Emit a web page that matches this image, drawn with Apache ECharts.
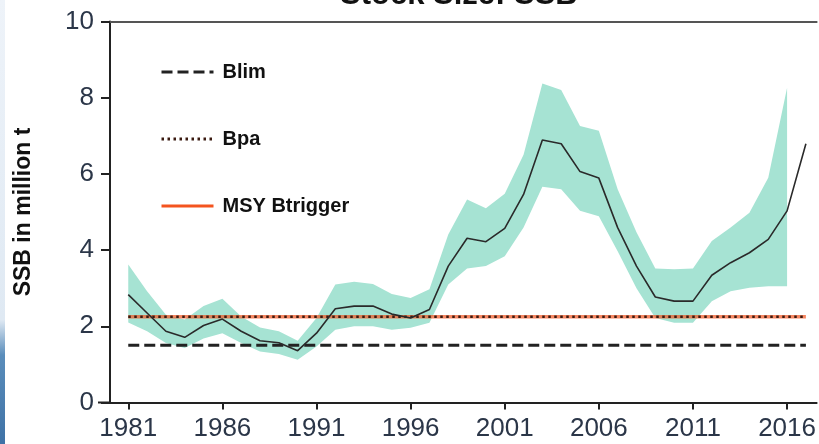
<!DOCTYPE html>
<html>
<head>
<meta charset="utf-8">
<script src="https://cdn.jsdelivr.net/npm/echarts@6/dist/echarts.min.js"></script>
<style>
  html, body { margin: 0; padding: 0; background: #fff; }
  #ssbChart { width: 819px; height: 444px; }
</style>
</head>
<body>
<div id="ssbChart"></div>
<script>
// years of the assessment (SSB line runs one year further than the band)
const years = [1981, 1982, 1983, 1984, 1985, 1986, 1987, 1988, 1989, 1990,
  1991, 1992, 1993, 1994, 1995, 1996, 1997, 1998, 1999, 2000,
  2001, 2002, 2003, 2004, 2005, 2006, 2007, 2008, 2009, 2010,
  2011, 2012, 2013, 2014, 2015, 2016, 2017];

// SSB estimate, million t
const ssb = [2.83, 2.35, 1.87, 1.71, 2.02, 2.19, 1.87, 1.62, 1.57, 1.36,
  1.82, 2.46, 2.53, 2.53, 2.32, 2.22, 2.44, 3.58, 4.31, 4.22,
  4.57, 5.46, 6.89, 6.79, 6.06, 5.89, 4.59, 3.58, 2.77, 2.66,
  2.66, 3.34, 3.67, 3.93, 4.28, 5.03, 6.79];

// confidence band, 1981-2016
const upper = [3.62, 2.92, 2.30, 2.18, 2.53, 2.72, 2.26, 1.97, 1.87, 1.62,
  2.22, 3.10, 3.17, 3.11, 2.85, 2.74, 2.97, 4.41, 5.33, 5.10,
  5.48, 6.50, 8.37, 8.20, 7.26, 7.13, 5.60, 4.47, 3.52, 3.50,
  3.52, 4.24, 4.59, 4.98, 5.90, 8.26];
const lower = [2.10, 1.87, 1.56, 1.43, 1.68, 1.82, 1.56, 1.34, 1.27, 1.12,
  1.47, 1.91, 2.00, 2.00, 1.91, 1.96, 2.09, 3.10, 3.52, 3.58,
  3.84, 4.59, 5.66, 5.60, 5.03, 4.89, 3.97, 3.00, 2.22, 2.09,
  2.09, 2.66, 2.92, 3.01, 3.05, 3.05];

// reference points
const blim = 1.5;
const bpa = 2.25;
const msyBtrigger = 2.25;
const refYears = [1981, 2017];

const xTicks = [1981, 1986, 1991, 1996, 2001, 2006, 2011, 2016];

const myChart = echarts.init(document.getElementById('ssbChart'));

const bandYears = years.slice(0, upper.length);
const refLine = v => refYears.map(y => [y, v]);

// band drawn as one polygon: upper edge forward, lower edge back
function renderBand(params, api) {
  const pts = [];
  bandYears.forEach((y, i) => pts.push(api.coord([y, upper[i]])));
  for (let i = bandYears.length - 1; i >= 0; i--) {
    pts.push(api.coord([bandYears[i], lower[i]]));
  }
  return {
    type: 'polygon',
    shape: { points: pts },
    style: { fill: '#a6e3d3' }
  };
}

const tickFont = { fontFamily: 'Liberation Sans', fontSize: 26, color: '#2b3648' };

const option = {
  backgroundColor: '#fff',
  animation: false,
  title: {
    text: 'Stock Size: SSB',
    left: 340,
    top: -20,
    padding: 0,
    textStyle: { fontFamily: 'Liberation Sans', fontWeight: 'bold', fontSize: 31, color: '#111' }
  },
  graphic: [{
    type: 'rect',
    shape: { x: 0, y: 0, width: 5, height: 444 },
    style: {
      fill: new echarts.graphic.LinearGradient(0, 0, 0, 1, [
        { offset: 0, color: '#eef3f9' },
        { offset: 0.72, color: '#dfe9f3' },
        { offset: 0.8, color: '#5a8dbb' },
        { offset: 1, color: '#3f72a6' }
      ])
    },
    silent: true
  }, {
    // x axis line runs a little to the left of the y axis
    type: 'line',
    shape: { x1: 98, y1: 402.5, x2: 111, y2: 402.5 },
    style: { stroke: '#222', lineWidth: 2 },
    silent: true
  }],
  legend: {
    data: ['Blim', 'Bpa', 'MSY Btrigger'],
    orient: 'vertical',
    left: 160,
    top: 62,
    padding: 0,
    itemWidth: 52,
    itemHeight: 22,
    itemGap: 47,
    itemStyle: { opacity: 0 },
    lineStyle: { width: 3, opacity: 1 },
    textStyle: {
      fontFamily: 'Liberation Sans', fontWeight: 'bold', fontSize: 20, color: '#111',
      padding: [0, 0, 0, 4]
    },
    selectedMode: false
  },
  grid: { left: 110, top: 21.5, right: 0, bottom: 41.5, containLabel: false },
  xAxis: [{
    type: 'value',
    min: 1980.03,
    max: 2017.57,
    axisLine: { show: true, lineStyle: { color: '#222', width: 2 } },
    axisTick: { show: true, customValues: xTicks, length: 7, lineStyle: { color: '#222', width: 2 } },
    axisLabel: Object.assign({
      customValues: xTicks,
      formatter: v => String(v),
      margin: 13
    }, tickFont),
    splitLine: { show: false }
  }, {
    type: 'value',
    position: 'top',
    min: 1980.03,
    max: 2017.57,
    axisLine: { show: true, lineStyle: { color: '#555', width: 2 } },
    axisTick: { show: false },
    axisLabel: { show: false },
    splitLine: { show: false }
  }],
  yAxis: {
    type: 'value',
    min: 0,
    max: 10,
    interval: 2,
    name: 'SSB in million t',
    nameLocation: 'middle',
    nameGap: 75,
    nameTextStyle: { fontFamily: 'Liberation Sans', fontWeight: 'bold', fontSize: 23, color: '#111' },
    axisLine: { show: true, lineStyle: { color: '#222', width: 2 } },
    axisTick: { show: true, length: 9, lineStyle: { color: '#222', width: 2 } },
    axisLabel: Object.assign({ margin: 16 }, tickFont),
    splitLine: { show: false }
  },
  series: [
    {
      name: 'band',
      type: 'custom',
      renderItem: renderBand,
      data: [[bandYears[0], lower[0]]],
      silent: true,
      z: 1
    },
    {
      name: 'MSY Btrigger',
      type: 'line',
      symbol: 'none',
      color: '#f4541f',
      lineStyle: { color: '#f4541f', width: 3.5, opacity: 0.7 },
      data: refLine(msyBtrigger),
      z: 2
    },
    {
      name: 'Bpa',
      type: 'line',
      symbol: 'none',
      color: '#222',
      lineStyle: { color: '#3a1a10', width: 2.5, type: [2.5, 3.5] },
      data: refLine(bpa),
      z: 3
    },
    {
      name: 'Blim',
      type: 'line',
      symbol: 'none',
      color: '#222',
      lineStyle: { color: '#222', width: 3, type: [11, 5] },
      data: refLine(blim),
      z: 3
    },
    {
      name: 'SSB',
      type: 'line',
      symbol: 'none',
      lineStyle: { color: '#2a2a2a', width: 1.6 },
      data: years.map((y, i) => [y, ssb[i]]),
      z: 4
    }
  ]
};

myChart.setOption(option);
</script>
</body>
</html>
